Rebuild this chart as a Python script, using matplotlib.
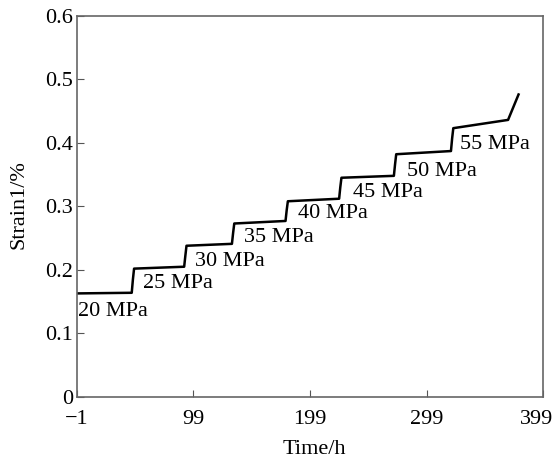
import numpy as np
import matplotlib
matplotlib.use("Agg")
import matplotlib.pyplot as plt
from matplotlib.transforms import ScaledTranslation

plt.rcParams['font.family'] = ['Liberation Serif', 'DejaVu Serif']

# creep curve (time in h, strain in %)
time = [-1, 46, 47, 48, 91, 92, 93, 132, 133, 134, 178, 179, 180,
        224, 225, 226, 271, 272, 273, 320, 321, 322, 369, 378]
strain = [0.163, 0.164, 0.185, 0.202, 0.205, 0.222, 0.238, 0.241, 0.258, 0.273,
          0.277, 0.294, 0.308, 0.312, 0.330, 0.345, 0.348, 0.366, 0.382, 0.387,
          0.407, 0.423, 0.436, 0.476]

labels = ["20 MPa", "25 MPa", "30 MPa", "35 MPa", "40 MPa", "45 MPa", "50 MPa", "55 MPa"]
label_x = [0, 56, 100, 142, 189, 236, 282, 328]
label_y = [0.135, 0.179, 0.214, 0.251, 0.289, 0.322, 0.355, 0.397]

fig = plt.figure(figsize=(5.55, 4.61), dpi=100)
ax = fig.add_axes([0.1387, 0.1388, 0.8397, 0.8272])

ax.plot(time, strain, color='black', linewidth=1.8)

for lab, lx, ly in zip(labels, label_x, label_y):
    ax.text(lx, ly, lab, fontsize=16, va='center', ha='left')

ax.set_xlim(-1, 399)
ax.set_ylim(0, 0.6)
ax.set_xticks([-1, 99, 199, 299, 399])
ax.set_xticklabels(["\u22121", "99", "199", "299", "399"])
ax.set_yticks(np.arange(0, 0.61, 0.1))
ax.set_yticklabels(["0", "0.1", "0.2", "0.3", "0.4", "0.5", "0.6"])
ax.tick_params(direction='in', length=5, labelsize=16, color='#555555')
ax.tick_params(axis='x', pad=9)
ax.tick_params(axis='y', pad=3)
for s in ax.spines.values():
    s.set_color('#666666')
    s.set_linewidth(1.2)

# last x label sits a bit left so it stays inside the figure
last = ax.get_xticklabels()[-1]
last.set_transform(last.get_transform() + ScaledTranslation(-6 / 100, 0, fig.dpi_scale_trans))

ax.set_xlabel("Time/h", fontsize=16)
ax.xaxis.set_label_coords(0.51, -0.113)
ax.set_ylabel("Strain1/%", fontsize=16)
ax.yaxis.set_label_coords(-0.103, 0.505)

fig.savefig("out.png", dpi=100)
